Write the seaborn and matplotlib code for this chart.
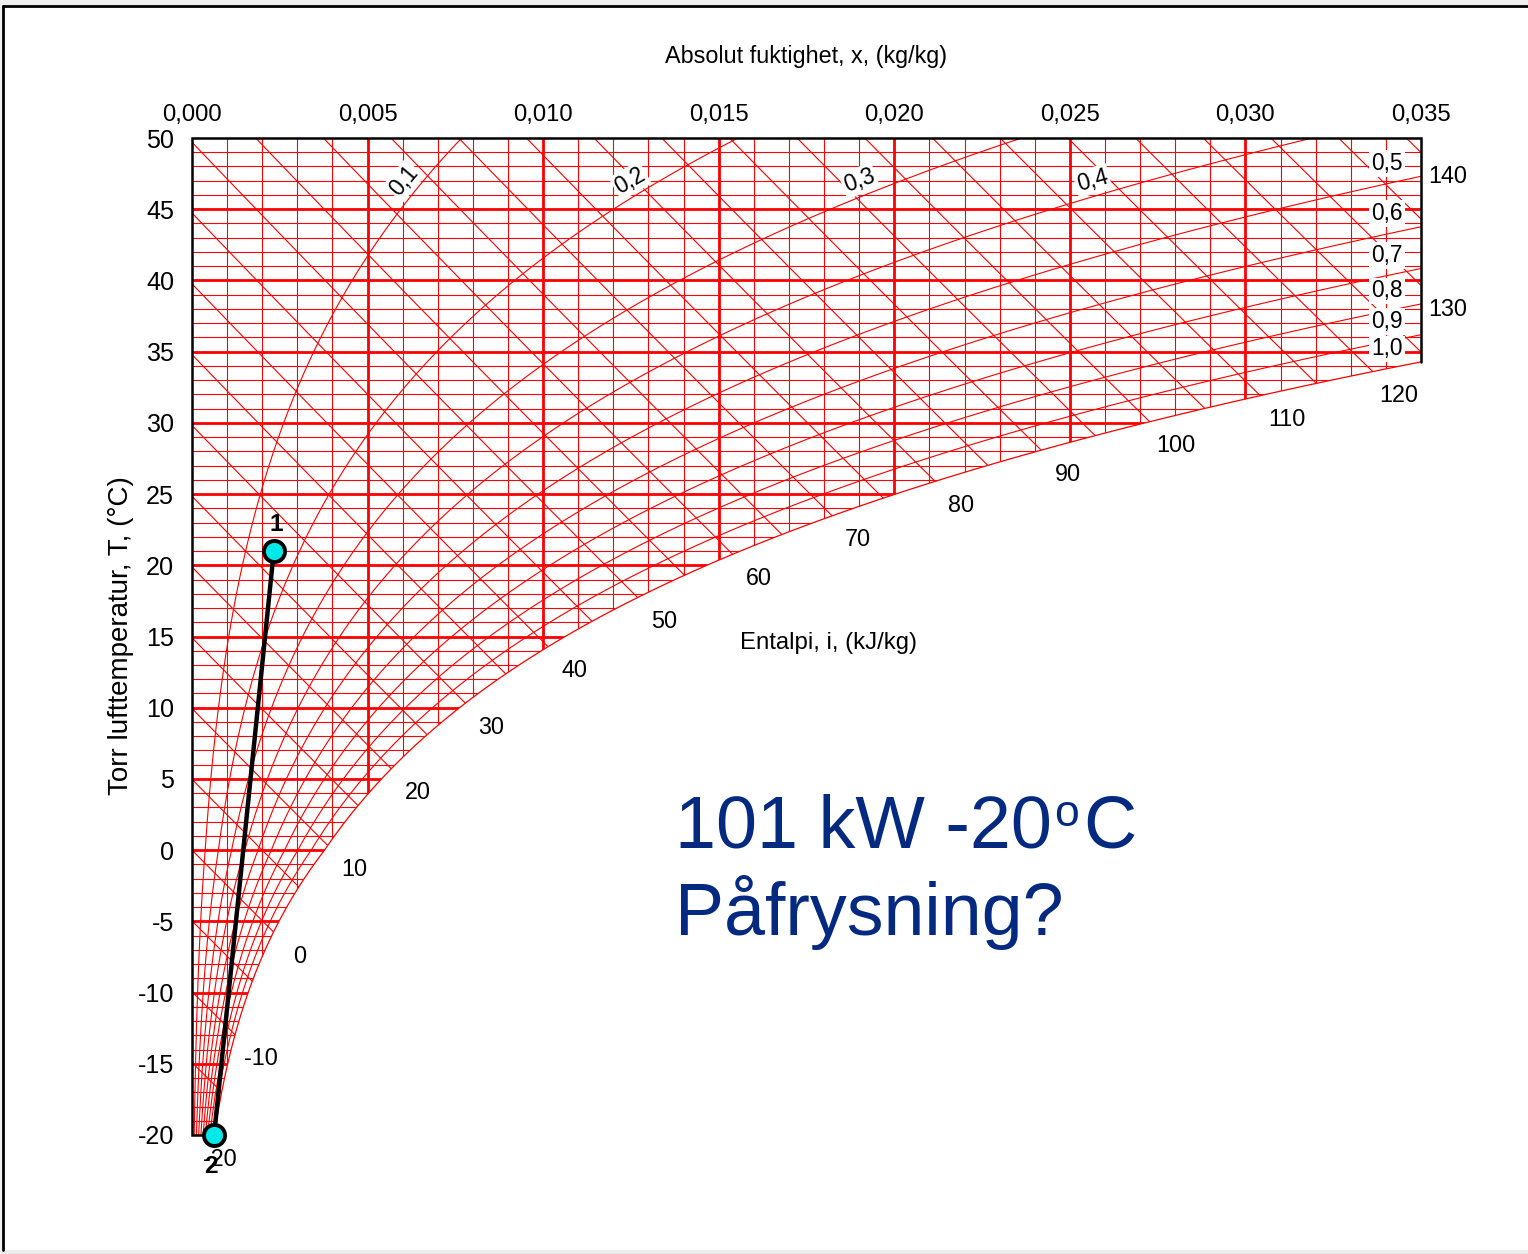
import numpy as np
import pandas as pd
import matplotlib
matplotlib.use("Agg")
import matplotlib.pyplot as plt
import seaborn as sns
from matplotlib import font_manager as fm
from matplotlib.collections import LineCollection
from matplotlib.patches import PathPatch, Rectangle
from matplotlib.path import Path

# ---- chart data -------------------------------------------------------------
x_ticks = [0.000, 0.005, 0.010, 0.015, 0.020, 0.025, 0.030, 0.035]
x_tick_labels = ["0,000", "0,005", "0,010", "0,015", "0,020", "0,025", "0,030", "0,035"]
t_ticks = [50, 45, 40, 35, 30, 25, 20, 15, 10, 5, 0, -5, -10, -15, -20]
t_tick_labels = ["50", "45", "40", "35", "30", "25", "20", "15", "10", "5", "0",
                 "-5", "-10", "-15", "-20"]
rh_levels = [0.1, 0.2, 0.3, 0.4, 0.5, 0.6, 0.7, 0.8, 0.9, 1.0]
rh_labels = ["0,1", "0,2", "0,3", "0,4", "0,5", "0,6", "0,7", "0,8", "0,9", "1,0"]
enthalpy_levels = list(range(-20, 145, 5))
enthalpy_label_levels = [-20, -10, 0, 10, 20, 30, 40, 50, 60, 70, 80, 90, 100,
                         110, 120, 130, 140]
state_names = ["2", "1"]
state_x = [0.00063, 0.00233]
state_t = [-20.0, 21.0]

X_MIN, X_MAX = 0.0, 0.035
T_MIN, T_MAX = -20.0, 50.0
P_ATM = 101.325

RED = "#ff0000"
NAVY = "#032a80"


# ---- moist-air relations ----------------------------------------------------
def p_sat(t):
    t = np.asarray(t, float)
    pw = 0.61094 * np.exp(17.625 * t / (t + 243.04))
    pi = 0.61115 * np.exp(22.452 * t / (272.55 + t))
    return np.where(t < 0, pi, pw)


def x_from_rh(t, phi):
    pv = phi * p_sat(t)
    return 0.622 * pv / (P_ATM - pv)


def t_from_enthalpy(i, x):
    return (i - 2501.0 * x) / (1.006 + 1.86 * x)


# ---- fonts ------------------------------------------------------------------
sns.set_theme(style="white")
plt.rcParams["font.family"] = ["Liberation Sans", "DejaVu Sans"]
plt.rcParams["axes.unicode_minus"] = False

_names = {f.name for f in fm.fontManager.ttflist}
if "Liberation Sans Narrow" in _names:
    CHART_FONT, FS = ["Liberation Sans Narrow", "DejaVu Sans"], 1.0
else:
    CHART_FONT, FS = ["Liberation Sans", "DejaVu Sans"], 0.84


def cfont(size, **kw):
    d = dict(family=CHART_FONT, size=size * FS)
    d.update(kw)
    return d


# ---- figure -----------------------------------------------------------------
W, H = 1528, 1254
fig = plt.figure(figsize=(W / 100, H / 100), dpi=100, facecolor="white")

# page edges: light grey margin above and below, black frame on top and left
fig.patches.append(Rectangle((0, 1 - 5 / H), 1, 5 / H, transform=fig.transFigure,
                             facecolor="#f0f0f0", edgecolor="none", zorder=-10))
fig.patches.append(Rectangle((0, 0), 1, 4 / H, transform=fig.transFigure,
                             facecolor="#ececec", edgecolor="none", zorder=-10))
fig.patches.append(Rectangle((0, 0), 2 / W, 1, transform=fig.transFigure,
                             facecolor="#f0f0f0", edgecolor="none", zorder=-10))
fig.lines.append(plt.Line2D([3 / W, 1], [1 - 6 / H, 1 - 6 / H], transform=fig.transFigure,
                            color="black", lw=2.0, zorder=-5))
fig.lines.append(plt.Line2D([3 / W, 3 / W], [1 - 6 / H, 4 / H], transform=fig.transFigure,
                            color="black", lw=2.0, zorder=-5))

L, R, TOP, BOT = 192, 1421, 138, 1135
ax = fig.add_axes([L / W, 1 - BOT / H, (R - L) / W, (BOT - TOP) / H])
ax.set_xlim(X_MIN, X_MAX)
ax.set_ylim(T_MIN, T_MAX)
ax.set_facecolor("none")
for s in ax.spines.values():
    s.set_visible(False)

# region above the saturation line
t_dense = np.linspace(T_MIN, T_MAX, 3001)
x_sat_dense = x_from_rh(t_dense, 1.0)
t_edge = float(np.interp(X_MAX, x_sat_dense, t_dense))
sat_mask = t_dense <= t_edge
sat_t = np.append(t_dense[sat_mask], t_edge)
sat_x = np.append(x_sat_dense[sat_mask], X_MAX)

verts = [(X_MIN, T_MIN), (X_MIN, T_MAX), (X_MAX, T_MAX), (X_MAX, t_edge)]
verts += list(zip(sat_x[::-1], sat_t[::-1]))
verts += [(X_MIN, T_MIN)]
clip = PathPatch(Path(verts, closed=True), transform=ax.transData,
                 facecolor="none", edgecolor="none")
ax.add_patch(clip)


def add_lines(segs, lw, z=2):
    lc = LineCollection(segs, colors=RED, linewidths=lw, zorder=z)
    ax.add_collection(lc)
    lc.set_clip_path(clip)
    return lc


# humidity grid (0.001 thin, 0.005 thick)
xv = np.round(np.arange(1, 35) * 0.001, 4)
thin_v = [[(v, T_MIN), (v, T_MAX)] for v in xv if round(v * 1000) % 5]
thick_v = [[(v, T_MIN), (v, T_MAX)] for v in xv if round(v * 1000) % 5 == 0]
# temperature grid (1 degree thin, 5 degree thick)
tv = np.arange(-19, 50)
thin_h = [[(X_MIN, t), (X_MAX, t)] for t in tv if t % 5]
thick_h = [[(X_MIN, t), (X_MAX, t)] for t in tv if t % 5 == 0]
add_lines(thin_v + thin_h, 0.8)
add_lines(thick_v + thick_h, 2.0)

# relative humidity curves
rh_segs = []
for phi in rh_levels[:-1]:
    xs = x_from_rh(t_dense, phi)
    rh_segs.append(np.column_stack([xs, t_dense]))
add_lines(rh_segs, 0.8)
ax.plot(sat_x, sat_t, color=RED, lw=0.9, zorder=2)

# enthalpy lines
x_line = np.linspace(X_MIN, X_MAX, 3501)
h_segs = [np.column_stack([x_line, t_from_enthalpy(i, x_line)]) for i in enthalpy_levels]
add_lines(h_segs, 0.8)

# chart frame
frame_x = [sat_x[0], X_MIN, X_MIN, X_MAX, X_MAX]
frame_t = [T_MIN, T_MIN, T_MAX, T_MAX, t_edge]
ax.plot(frame_x, frame_t, color="black", lw=1.8, zorder=4, clip_on=False,
        solid_joinstyle="miter")

# ---- labels for the curves --------------------------------------------------
fig.canvas.draw()
to_px = ax.transData.transform
to_data = ax.transData.inverted().transform
box = dict(boxstyle="square,pad=0.08", facecolor="white", edgecolor="none")

for phi, lab in zip(rh_levels, rh_labels):
    if float(x_from_rh(T_MAX, phi)) < X_MAX:
        # curve leaves through the top edge: label along the curve
        t0 = 47.0
        x0 = float(x_from_rh(t0, phi))
        p0 = to_px((x0, t0))
        p1 = to_px((float(x_from_rh(t0 + 0.3, phi)), t0 + 0.3))
        ang = np.degrees(np.arctan2(p1[1] - p0[1], p1[0] - p0[0]))
        shift = 15.0 / np.sin(np.radians(ang))
        pos = to_data((p0[0] - shift, p0[1]))
        ax.text(pos[0], pos[1], lab, rotation=ang, rotation_mode="anchor",
                ha="center", va="center", color="black", bbox=box, zorder=5,
                fontdict=cfont(19.5))
    else:
        # curve leaves through the right edge: label just above it
        t_e = float(np.interp(X_MAX, x_from_rh(t_dense, phi), t_dense))
        p0 = to_px((X_MAX, t_e))
        pos = to_data((1387, p0[1] + 13))
        ax.text(pos[0], pos[1], lab, ha="center", va="center", color="black",
                bbox=box, zorder=5, fontdict=cfont(19.5))

sat_x_of = lambda t: np.interp(t, sat_t, sat_x)
for i in enthalpy_label_levels:
    ts = t_from_enthalpy(i, x_line)
    inside = (ts >= T_MIN) & (ts <= T_MAX) & (x_line <= sat_x_of(np.clip(ts, T_MIN, t_edge)) + 1e-12)
    k = np.nonzero(inside)[0][-1]
    ax.annotate(str(i), xy=(x_line[k], ts[k]), xytext=(19, -17.5),
                textcoords="offset points", ha="center", va="center",
                color="black", annotation_clip=False, zorder=5, **cfont(20))

# ---- process line between the two states ------------------------------------
states = pd.DataFrame({"name": state_names, "x": state_x, "t": state_t})
sns.lineplot(data=states, x="x", y="t", sort=False, color="black", lw=3.2,
             ax=ax, zorder=6, legend=False)
sns.scatterplot(data=states, x="x", y="t", s=230, color="#00e8e8",
                edgecolor="black", linewidth=2.8, ax=ax, zorder=7, legend=False,
                clip_on=False)
for name, xx, tt in zip(state_names, state_x, state_t):
    dy = 19 if name == "1" else -23
    ax.annotate(name, xy=(xx, tt), xytext=(2 if name == "1" else -2, dy),
                textcoords="offset points", ha="center", va="center",
                color="black", annotation_clip=False, zorder=8,
                **cfont(21, weight="bold"))

# ---- axes -------------------------------------------------------------------
ax.set_xlabel("")
ax.set_ylabel("")
ax.xaxis.tick_top()
ax.set_xticks(x_ticks)
ax.set_xticklabels(x_tick_labels, fontdict=cfont(20.5))
ax.set_yticks(t_ticks)
ax.set_yticklabels(t_tick_labels, fontdict=cfont(21.5))
ax.tick_params(axis="x", length=0, pad=9, colors="black")
ax.tick_params(axis="y", length=0, pad=13, colors="black")

fig.text(806 / W, 1 - 57 / H, "Absolut fuktighet, x, (kg/kg)", ha="center",
         va="center", color="black", fontdict=cfont(20))
fig.text(121 / W, 1 - 636 / H, "Torr lufttemperatur, T, (°C)", ha="center",
         va="center", rotation=90, color="black", family=["Liberation Sans"],
         size=20)
fig.text(740 / W, 1 - 643 / H, "Entalpi, i, (kJ/kg)", ha="left", va="center",
         color="black", fontdict=cfont(20.5))

# annotation text on the slide
big = dict(color=NAVY, family=["Liberation Sans"], va="baseline", ha="left")
fig.text(675 / W, 1 - 848 / H, "101 kW -20", size=53, **big)
fig.text(1054 / W, 1 - 826 / H, "o", size=32, **big)
fig.text(1083 / W, 1 - 848 / H, "C", size=53, **big)
fig.text(675 / W, 1 - 935 / H, "Påfrysning?", size=53, **big)

fig.savefig("out.png", dpi=100, facecolor=fig.get_facecolor())
